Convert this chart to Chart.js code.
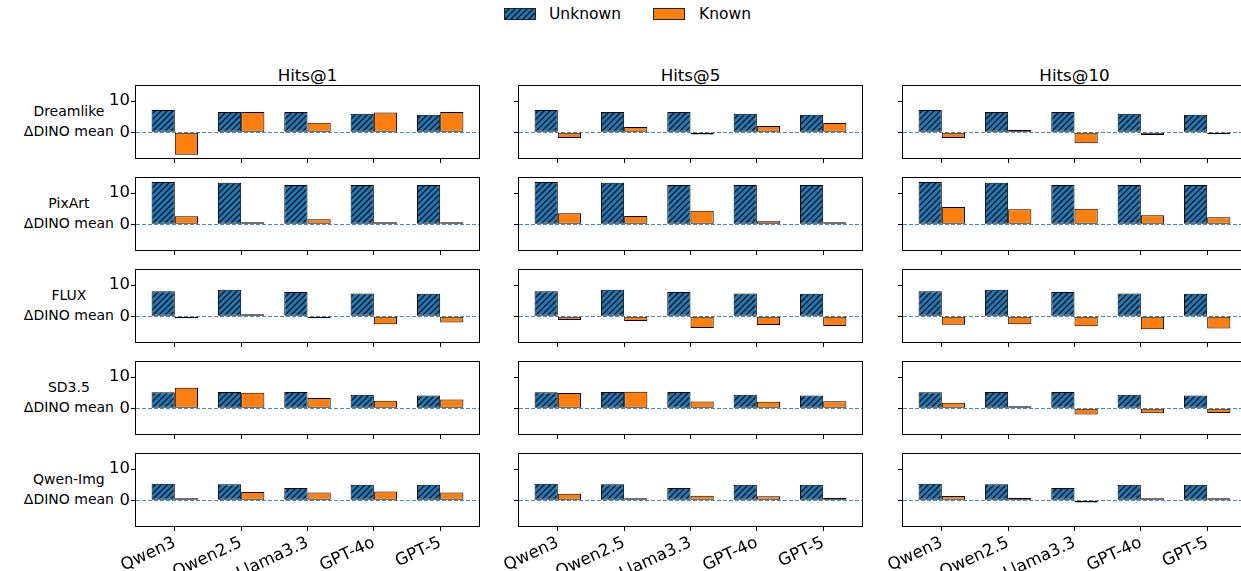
<!DOCTYPE html>
<html>
<head>
<meta charset="utf-8">
<script src="https://cdn.jsdelivr.net/npm/chart.js@4.4.1/dist/chart.umd.min.js"></script>
<style>
  body { margin: 0; width: 1241px; height: 571px; overflow: hidden; background: #fff; position: relative;
         font-family: "DejaVu Sans", sans-serif; color: #000; }
  canvas.panel { position: absolute; }
  .title { position: absolute; text-align: center; font-size: 16.7px; line-height: 22px; }
  .rowlabel { position: absolute; text-align: center; font-size: 14px; line-height: 20px; white-space: nowrap; }
  .legend-text { position: absolute; font-size: 15.5px; line-height: 18px; }
  .swatch { position: absolute; }
</style>
</head>
<body>
<script>
const categories = ['Qwen3', 'Qwen2.5', 'Llama3.3', 'GPT-4o', 'GPT-5'];
const models = ['Dreamlike', 'PixArt', 'FLUX', 'SD3.5', 'Qwen-Img'];
const metrics = ['Hits@1', 'Hits@5', 'Hits@10'];
const yTicks = [0, 10];

// Unknown is the same in every Hits@k column (one row per model)
const unknownMean = [
  [7.1, 6.5, 6.5, 5.9, 5.6],
  [13.5, 13.3, 12.6, 12.6, 12.6],
  [8.0, 8.5, 7.8, 7.3, 7.2],
  [5.1, 5.2, 5.2, 4.3, 4.1],
  [5.3, 5.1, 3.9, 5.0, 5.0]
];

const knownHits1 = [
  [-7.2, 6.5, 3.1, 6.3, 6.5],
  [2.6, 0.2, 1.6, 0.65, 0.4],
  [-0.4, 0.3, -0.1, -2.5, -2.0],
  [6.6, 5.0, 3.3, 2.4, 2.8],
  [0.6, 2.7, 2.5, 2.8, 2.5]
];
const knownHits5 = [
  [-1.8, 1.7, -0.7, 2.0, 3.0],
  [3.5, 2.7, 4.3, 1.0, 0.2],
  [-1.2, -1.5, -3.7, -2.8, -3.1],
  [4.9, 5.3, 2.2, 2.1, 2.3],
  [2.1, 0.4, 1.5, 1.3, 0.75]
];
const knownHits10 = [
  [-1.8, 0.75, -3.5, -0.85, -0.2],
  [5.5, 4.8, 5.0, 2.9, 2.3],
  [-2.7, -2.5, -3.2, -4.1, -3.9],
  [1.8, 0.2, -2.0, -1.6, -1.5],
  [1.4, 0.75, -0.7, 0.5, 0.4]
];
const knownByMetric = [knownHits1, knownHits5, knownHits10];

const BLUE = '#1f77b4';
const ORANGE = '#ff7f0e';
const FONT = 'DejaVu Sans';

// page layout (pixels)
const colLeft = [136, 519, 903];
const rowTop = [86, 178, 270, 362, 454];
const plotW = 343, plotH = 72;
const padL = 40, padT = 6, padR = 6;

function hatchPattern(ctx) {
  const s = 6;
  const tile = document.createElement('canvas');
  tile.width = s; tile.height = s;
  const g = tile.getContext('2d');
  g.fillStyle = BLUE;
  g.fillRect(0, 0, s, s);
  g.strokeStyle = '#000';
  g.lineWidth = 1.1;
  g.beginPath();
  g.moveTo(0, s); g.lineTo(s, 0);
  g.moveTo(-s, s); g.lineTo(s, -s);
  g.moveTo(0, 2 * s); g.lineTo(2 * s, 0);
  g.stroke();
  return ctx.createPattern(tile, 'repeat');
}

// zero line + full box around each axes
const frame = {
  id: 'frame',
  afterDatasetsDraw(chart) {
    const { ctx, chartArea: a } = chart;
    const y = Math.round(chart.scales.y.getPixelForValue(0)) + 0.5;
    ctx.save();
    ctx.strokeStyle = 'rgba(31,119,180,0.85)';
    ctx.lineWidth = 1;
    ctx.setLineDash([4, 2]);
    ctx.beginPath();
    ctx.moveTo(a.left, y);
    ctx.lineTo(a.right, y);
    ctx.stroke();
    ctx.restore();
  },
  afterDraw(chart) {
    const { ctx, chartArea: a } = chart;
    ctx.save();
    ctx.strokeStyle = '#000';
    ctx.lineWidth = 1;
    ctx.strokeRect(a.left - 0.5, a.top - 0.5, a.right - a.left + 1, a.bottom - a.top + 1);
    ctx.restore();
  }
};

function addDiv(cls, text, style) {
  const d = document.createElement('div');
  d.className = cls;
  d.innerHTML = text;
  Object.assign(d.style, style);
  document.body.appendChild(d);
  return d;
}

// legend
function swatch(x, fill) {
  const c = document.createElement('canvas');
  c.className = 'swatch';
  c.width = 32; c.height = 12;
  c.style.left = x + 'px'; c.style.top = '8px';
  document.body.appendChild(c);
  const g = c.getContext('2d');
  g.fillStyle = fill === 'hatch' ? hatchPattern(g) : fill;
  g.fillRect(0, 0, 32, 12);
  g.strokeStyle = '#222';
  g.lineWidth = 1;
  g.strokeRect(0.5, 0.5, 31, 11);
}
swatch(504, 'hatch');
addDiv('legend-text', 'Unknown', { left: '549px', top: '5px' });
swatch(653, ORANGE);
addDiv('legend-text', 'Known', { left: '699px', top: '5px' });

// column titles
metrics.forEach((m, c) => {
  addDiv('title', m, { left: colLeft[c] + 'px', top: '64px', width: plotW + 'px' });
});

// row labels
models.forEach((m, r) => {
  addDiv('rowlabel', m + '<br>ΔDINO mean', { right: (1241 - 114) + 'px', top: (rowTop[r] + 15) + 'px' });
});

models.forEach((model, r) => {
  metrics.forEach((metric, c) => {
    const isBottom = r === models.length - 1;
    const bottomH = isBottom ? 52 : 8;
    const cv = document.createElement('canvas');
    cv.className = 'panel';
    cv.width = padL + plotW + padR;
    cv.height = padT + plotH + bottomH;
    cv.style.left = (colLeft[c] - padL) + 'px';
    cv.style.top = (rowTop[r] - padT) + 'px';
    document.body.appendChild(cv);
    const ctx = cv.getContext('2d');

    new Chart(ctx, {
      type: 'bar',
      data: {
        datasets: [
          {
            label: 'Unknown',
            data: unknownMean[r].map((v, i) => ({ x: i, y: v })),
            backgroundColor: hatchPattern(ctx),
            borderColor: '#000',
            borderWidth: 1,
            borderSkipped: false,
            minBarLength: 2
          },
          {
            label: 'Known',
            data: knownByMetric[c][r].map((v, i) => ({ x: i, y: v })),
            backgroundColor: ORANGE,
            borderColor: '#000',
            borderWidth: 1,
            borderSkipped: false,
            minBarLength: 2
          }
        ]
      },
      options: {
        responsive: false,
        animation: false,
        devicePixelRatio: 1,
        layout: { padding: { top: padT, right: padR, left: 0, bottom: 0 } },
        plugins: { legend: { display: false }, tooltip: { enabled: false } },
        datasets: { bar: { categoryPercentage: 0.7, barPercentage: 1.0 } },
        scales: {
          x: {
            type: 'linear',
            min: -0.585,
            max: 4.585,
            offset: false,
            afterBuildTicks: s => { s.ticks = categories.map((_, i) => ({ value: i })); },
            afterFit: s => { s.height = bottomH; s.paddingLeft = 0; s.paddingRight = 0; },
            grid: { offset: false, drawOnChartArea: false, drawTicks: true, tickLength: 5, color: '#000' },
            border: { display: false },
            ticks: {
              autoSkip: false,
              minRotation: isBottom ? 25 : 0,
              maxRotation: isBottom ? 25 : 0,
              padding: 2,
              color: '#000',
              font: { family: FONT, size: 16.7 },
              callback: v => isBottom ? categories[v] : ''
            }
          },
          y: {
            min: -8.2,
            max: 14.8,
            afterBuildTicks: s => { s.ticks = yTicks.map(v => ({ value: v })); },
            afterFit: s => { s.width = padL; s.paddingTop = 0; s.paddingBottom = 0; },
            grid: { drawOnChartArea: false, drawTicks: true, tickLength: 5, color: '#000' },
            border: { display: false },
            ticks: {
              padding: 1,
              color: '#000',
              font: { family: FONT, size: 16.5 },
              callback: v => c === 0 ? String(v) : ''
            }
          }
        }
      },
      plugins: [frame]
    });
  });
});
</script>
</body>
</html>
